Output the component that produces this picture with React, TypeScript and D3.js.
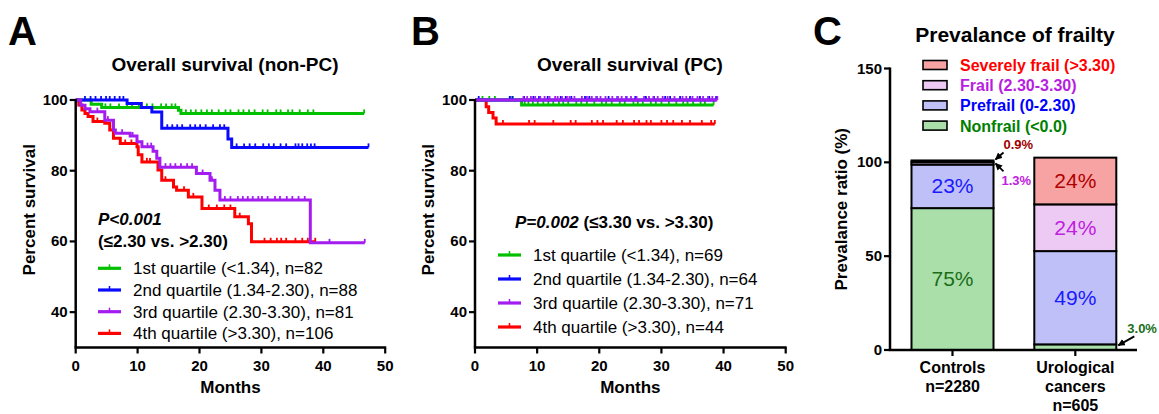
import React from 'react';
import * as d3 from 'd3';

const FONT = "'Liberation Sans', Arial, Helvetica, sans-serif";

// ---- Kaplan-Meier data (time in months, percent survival after each step) ----
const aGreenSteps = [[0, 100], [2.5, 98.8], [4.2, 97.9], [16.6, 97.1], [17.0, 96.2]];
const aBlueSteps = [[0, 100], [8.3, 99.0], [10.6, 97.9], [12.3, 96.6], [13.9, 92.0], [24.6, 89.0], [25.2, 86.6]];
const aPurpleSteps = [[0, 100], [0.8, 98.5], [1.5, 97.5], [2.3, 96.7], [4.7, 94.3], [6.1, 91.5], [6.4, 90.6], [8.8, 89.8], [9.9, 88.2], [10.7, 86.8], [12.5, 85.5], [13.1, 83.5], [13.6, 81.0], [19.5, 79.2], [21.7, 77.3], [22.5, 74.5], [23.3, 71.7], [37.9, 59.6]];
const aRedSteps = [[0, 100], [0.5, 98.6], [1.0, 97.2], [1.5, 96.2], [2.0, 95.3], [2.8, 93.9], [4.7, 93.4], [5.5, 91.5], [6.1, 89.2], [7.2, 87.7], [9.9, 86.8], [10.1, 84.5], [10.7, 82.5], [13.3, 80.2], [13.9, 77.3], [15.8, 75.4], [16.3, 74.5], [18.2, 72.6], [20.4, 69.3], [25.7, 67.0], [27.9, 65.0], [28.4, 59.9]];
const aEnds = [46.6, 47.3, 46.7, 38.7];

const aGreenCensor = [4.8, 5.6, 7.0, 8.3, 9.1, 10.2, 11.5, 12.4, 13.8, 14.6, 15.5, 16.1, 17.8, 18.6, 19.4, 20.3, 21.2, 22.0, 23.1, 24.2, 25.0, 26.3, 27.1, 28.0, 28.9, 30.2, 31.0, 32.4, 33.1, 34.3, 35.0, 36.2, 37.5, 38.4, 46.6];
const aBlueCensor = [1.5, 2.4, 3.2, 4.1, 4.9, 5.5, 6.3, 7.1, 7.7, 14.8, 15.6, 16.4, 17.2, 18.5, 19.3, 20.1, 21.0, 22.2, 23.3, 24.0, 26.0, 27.2, 28.1, 29.0, 30.3, 31.2, 32.0, 33.1, 34.0, 35.5, 36.0, 36.6, 37.4, 38.0, 38.6, 47.3];
const aPurpleCensor = [3.5, 5.2, 7.5, 9.2, 11.6, 12.2, 14.5, 15.3, 16.1, 17.0, 18.0, 18.8, 20.5, 22.0, 24.1, 25.0, 26.2, 27.0, 27.8, 28.6, 29.5, 30.1, 31.0, 32.2, 33.0, 34.1, 35.0, 36.0, 37.0, 41.0, 46.7];
const aRedCensor = [3.5, 8.0, 9.0, 11.5, 12.0, 14.5, 17.5, 19.0, 21.5, 22.8, 24.0, 25.0, 26.5, 30.5, 31.5, 32.5, 33.2, 34.0, 35.5, 36.6, 37.5, 38.7];

const bGreenSteps = [[0, 100], [7.5, 98.6]];
const bBlueSteps = [[0, 100]];
const bPurpleSteps = [[0, 100]];
const bRedSteps = [[0, 100], [1.8, 98.1], [2.2, 96.5], [2.9, 94.9], [3.4, 93.2]];
const bEnds = [38.4, 38.8, 39.0, 38.6];

const bGreenCensor = [1.2, 2.3, 3.2, 5.6, 6.1, 8.0, 8.6, 9.3, 10.1, 11.0, 11.8, 12.6, 13.5, 14.2, 15.0, 16.3, 17.1, 18.0, 19.2, 20.4, 21.1, 22.0, 23.3, 24.1, 25.5, 26.2, 27.0, 28.3, 29.1, 30.0, 31.2, 32.4, 33.5, 34.2, 35.1, 36.3, 37.0, 38.4];
const bBlueCensor = [0.6, 5.6, 6.0, 7.9, 9.4, 10.3, 11.7, 13.8, 14.6, 15.5, 17.7, 18.4, 19.6, 21.5, 22.9, 24.4, 25.8, 27.5, 28.8, 30.6, 31.4, 33.0, 34.6, 36.2, 37.7, 38.8];
const bPurpleCensor = [7.8, 8.4, 9.0, 9.7, 10.5, 11.2, 12.0, 12.9, 13.3, 14.0, 14.8, 15.2, 16.0, 17.2, 18.0, 18.8, 19.5, 20.2, 21.0, 22.1, 23.0, 23.6, 24.3, 25.1, 26.0, 27.2, 28.0, 28.7, 29.4, 30.2, 31.0, 32.1, 33.4, 34.0, 35.0, 35.8, 36.7, 37.5, 38.2, 39.0];
const bRedCensor = [4.5, 8.7, 9.6, 12.6, 15.4, 16.2, 18.8, 19.7, 20.6, 22.8, 23.8, 25.6, 26.4, 27.6, 28.3, 30.0, 30.9, 31.9, 33.3, 34.6, 36.5, 38.0, 38.6];

const quartileColors = ['#00c000', '#0a0aff', '#a31cf0', '#ff0000'];
const aLegend = ['1st quartile (<1.34), n=82', '2nd quartile (1.34-2.30), n=88', '3rd quartile (2.30-3.30), n=81', '4th quartile (>3.30), n=106'];
const bLegend = ['1st quartile (<1.34), n=69', '2nd quartile (1.34-2.30), n=64', '3rd quartile (2.30-3.30), n=71', '4th quartile (>3.30), n=44'];
const xTicks = [0, 10, 20, 30, 40, 50];
const yTicks = [40, 60, 80, 100];

// ---- Prevalence data (%) ----
const groups = ['Controls', 'Urological cancers'];
const groupLines = [['Controls', 'n=2280'], ['Urological', 'cancers', 'n=605']];
const frailKeys = ['nonfrail', 'prefrail', 'frail', 'severe'];
const nonfrail = [75.6, 3.0];
const prefrail = [23.2, 49.7];
const frail = [1.3, 24.9];
const severe = [0.9, 24.9];
const frailFills = ['#aadfaa', '#c0c0f8', '#eccaf4', '#f7a3a3'];
const frailLegend = ['Nonfrail (<0.0)', 'Prefrail (0-2.30)', 'Frail (2.30-3.30)', 'Severely frail (>3.30)'];
const frailLegendColors = ['#008000', '#0000ff', '#b81ee0', '#ff0000'];
const barLabels = [['75%', '23%', '', ''], ['', '49%', '24%', '24%']];
const barLabelColors = ['#1a6e1a', '#1a1aff', '#c020e0', '#b00000'];
const cTicks = [0, 50, 100, 150];

const survivalAt = (steps, t) => {
  let s = steps[0][1];
  for (const st of steps) if (st[0] <= t) s = st[1];
  return s;
};

const KMPanel = ({ xRange, title, titleX, pItalic, pRest, pX, pY, pLines, series, legend, legendX, legendY, legendStep }) => {
  const x = d3.scaleLinear().domain([0, 50]).range(xRange);
  const y = d3.scaleLinear().domain([30, 100]).range([347.5, 100]);
  const line = d3.line().x(d => x(d[0])).y(d => y(d[1])).curve(d3.curveStepAfter);
  const x0 = x(0);
  return (
    <g>
      <text x={titleX} y={71} textAnchor="middle" fontSize={19} fontWeight="bold">{title}</text>
      {/* curves */}
      {series.map((s, i) => {
        const pts = [...s.steps, [s.end, s.steps[s.steps.length - 1][1]]];
        return (
          <g key={i}>
            <path d={line(pts)} fill="none" stroke={s.color} strokeWidth={3} />
            {s.censor.map((t, j) => {
              const yy = y(survivalAt(s.steps, t));
              return <line key={j} x1={x(t)} x2={x(t)} y1={yy} y2={yy - 4} stroke={s.color} strokeWidth={1.8} />;
            })}
          </g>
        );
      })}
      {/* axes */}
      <line x1={x0} x2={x0} y1={y(100) - 1} y2={y(30)} stroke="#000" strokeWidth={2.5} />
      <line x1={x0 - 1.2} x2={x(50) + 1} y1={y(30)} y2={y(30)} stroke="#000" strokeWidth={2.5} />
      {yTicks.map(v => (
        <g key={v}>
          <line x1={x0 - 6} x2={x0} y1={y(v)} y2={y(v)} stroke="#000" strokeWidth={2.2} />
          <text x={x0 - 8} y={y(v) + 5} textAnchor="end" fontSize={15} fontWeight="bold">{v}</text>
        </g>
      ))}
      {xTicks.map(v => (
        <g key={v}>
          <line x1={x(v)} x2={x(v)} y1={y(30)} y2={y(30) + 6} stroke="#000" strokeWidth={2.2} />
          <text x={x(v)} y={y(30) + 23} textAnchor="middle" fontSize={15} fontWeight="bold">{v}</text>
        </g>
      ))}
      <text x={(x(0) + x(50)) / 2} y={393} textAnchor="middle" fontSize={17} fontWeight="bold">Months</text>
      <text transform={`translate(${x0 - 41},${(y(100) + y(30)) / 2 - 14}) rotate(-90)`} textAnchor="middle" fontSize={17} fontWeight="bold">Percent survival</text>
      {/* p value */}
      <text x={pX} y={pY} fontSize={17} fontWeight="bold">
        <tspan fontStyle="italic">{pItalic}</tspan>
        {pLines.length === 0 && <tspan>{pRest}</tspan>}
      </text>
      {pLines.map((l, i) => (
        <text key={i} x={pX} y={pY + 22 * (i + 1)} fontSize={17} fontWeight="bold">{l}</text>
      ))}
      {/* legend */}
      {legend.map((l, i) => {
        const ly = legendY + i * legendStep;
        return (
          <g key={i}>
            <line x1={legendX} x2={legendX + 23} y1={ly} y2={ly} stroke={quartileColors[i]} strokeWidth={3.2} />
            <line x1={legendX + 11.5} x2={legendX + 11.5} y1={ly} y2={ly - 4} stroke={quartileColors[i]} strokeWidth={1.5} />
            <text x={legendX + 35} y={ly + 6} fontSize={17}>{l}</text>
          </g>
        );
      })}
    </g>
  );
};

const PrevalencePanel = () => {
  const y = d3.scaleLinear().domain([0, 150]).range([350, 68.5]);
  const x = d3.scalePoint().domain(groups).range([952.5, 1075.3]);
  const barW = 82;
  const table = groups.map((g, i) => ({ group: g, nonfrail: nonfrail[i], prefrail: prefrail[i], frail: frail[i], severe: severe[i] }));
  const stacked = d3.stack().keys(frailKeys)(table);
  const tops = groups.map((g, i) => stacked[stacked.length - 1][i][1]);
  const axisX = 890;
  const cRight = x(groups[0]) + barW / 2;
  const uRight = x(groups[1]) + barW / 2;
  return (
    <g>
      <defs>
        <marker id="arr" viewBox="0 0 10 10" refX="9" refY="5" markerWidth="4" markerHeight="4" orient="auto">
          <path d="M0,0 L10,5 L0,10 z" fill="#000" />
        </marker>
      </defs>
      <text x={1015} y={42} textAnchor="middle" fontSize={21} fontWeight="bold">Prevalance of frailty</text>
      {/* bars */}
      {stacked.map((layer, k) => layer.map((d, i) => (
        <rect key={`${k}-${i}`} x={x(groups[i]) - barW / 2} y={y(d[1])} width={barW} height={y(d[0]) - y(d[1])}
          fill={frailFills[k]} stroke="#000" strokeWidth={2} />
      )))}
      {stacked.map((layer, k) => layer.map((d, i) => barLabels[i][k] && (
        <text key={`t${k}-${i}`} x={x(groups[i])} y={y((d[0] + d[1]) / 2) + 7} textAnchor="middle" fontSize={21}
          fill={barLabelColors[k]}>{barLabels[i][k]}</text>
      )))}
      {/* axes */}
      <line x1={axisX} x2={axisX} y1={y(150) - 1} y2={y(0)} stroke="#000" strokeWidth={2.5} />
      <line x1={axisX - 1.2} x2={1137} y1={y(0)} y2={y(0)} stroke="#000" strokeWidth={2.5} />
      {cTicks.map(v => (
        <g key={v}>
          <line x1={axisX - 6} x2={axisX} y1={y(v)} y2={y(v)} stroke="#000" strokeWidth={2.2} />
          <text x={axisX - 8} y={y(v) + 5} textAnchor="end" fontSize={15} fontWeight="bold">{v}</text>
        </g>
      ))}
      {groups.map((g, i) => (
        <g key={g}>
          <line x1={x(g)} x2={x(g)} y1={y(0)} y2={y(0) + 6} stroke="#000" strokeWidth={2.2} />
          {groupLines[i].map((t, j) => (
            <text key={j} x={x(g)} y={373 + j * 19} textAnchor="middle" fontSize={16} fontWeight="bold">{t}</text>
          ))}
        </g>
      ))}
      <text transform={`translate(${847},${(y(150) + y(0)) / 2}) rotate(-90)`} textAnchor="middle" fontSize={17} fontWeight="bold">Prevalance ratio (%)</text>
      {/* legend, top entry first */}
      {frailKeys.map((k, i) => {
        const row = frailKeys.length - 1 - i;
        const ly = 65 + row * 20.2;
        return (
          <g key={k}>
            <rect x={923} y={ly - 4.5} width={24} height={9} fill={frailFills[i]} stroke="#000" strokeWidth={1.6} />
            <text x={960} y={ly + 6} fontSize={16} fontWeight="bold" fill={frailLegendColors[i]}>{frailLegend[i]}</text>
          </g>
        );
      })}
      {/* annotations */}
      <text x={cRight + 10} y={y(tops[0]) - 11} fontSize={13} fontWeight="bold" fill="#a00000">0.9%</text>
      <line x1={cRight + 10} y1={y(tops[0]) - 8} x2={cRight + 2} y2={y(tops[0]) - 1} stroke="#000" strokeWidth={1.8} markerEnd="url(#arr)" />
      <text x={cRight + 8} y={y(tops[0]) + 25} fontSize={13} fontWeight="bold" fill="#c020e0">1.3%</text>
      <line x1={cRight + 10} y1={y(tops[0]) + 11} x2={cRight + 2} y2={y(tops[0]) + 3} stroke="#000" strokeWidth={1.8} markerEnd="url(#arr)" />
      <text x={uRight + 11} y={y(nonfrail[1]) - 11} fontSize={13} fontWeight="bold" fill="#1a6e1a">3.0%</text>
      <line x1={uRight + 18} y1={y(nonfrail[1]) - 8} x2={uRight + 2} y2={y(nonfrail[1]) + 1} stroke="#000" strokeWidth={1.8} markerEnd="url(#arr)" />
    </g>
  );
};

const App = () => {
  const aSeries = [
    { steps: aRedSteps, censor: aRedCensor, end: aEnds[3], color: quartileColors[3] },
    { steps: aGreenSteps, censor: aGreenCensor, end: aEnds[0], color: quartileColors[0] },
    { steps: aBlueSteps, censor: aBlueCensor, end: aEnds[1], color: quartileColors[1] },
    { steps: aPurpleSteps, censor: aPurpleCensor, end: aEnds[2], color: quartileColors[2] },
  ];
  const bSeries = [
    { steps: bRedSteps, censor: bRedCensor, end: bEnds[3], color: quartileColors[3] },
    { steps: bGreenSteps, censor: bGreenCensor, end: bEnds[0], color: quartileColors[0] },
    { steps: bBlueSteps, censor: bBlueCensor, end: bEnds[1], color: quartileColors[1] },
    { steps: bPurpleSteps, censor: bPurpleCensor, end: bEnds[2], color: quartileColors[2] },
  ];
  return (
    <svg width={1159} height={414} style={{ position: 'absolute', left: 0, top: 0, background: '#fff' }} fontFamily={FONT}>
      <rect width={1159} height={414} fill="#fff" />
      <text x={8} y={45} fontSize={40} fontWeight="bold">A</text>
      <text x={411} y={45} fontSize={40} fontWeight="bold">B</text>
      <text x={813} y={45} fontSize={40} fontWeight="bold">C</text>
      <KMPanel xRange={[75.7, 385.2]} title="Overall survival (non-PC)" titleX={225}
        pItalic="P<0.001" pRest="" pX={98} pY={225} pLines={['(≤2.30 vs. >2.30)']}
        series={aSeries} legend={aLegend} legendX={98} legendY={268.3} legendStep={21.7} />
      <KMPanel xRange={[475, 785.7]} title="Overall survival (PC)" titleX={630}
        pItalic="P=0.002" pRest=" (≤3.30 vs. >3.30)" pX={515} pY={228} pLines={[]}
        series={bSeries} legend={bLegend} legendX={498} legendY={255} legendStep={24} />
      <PrevalencePanel />
    </svg>
  );
};

export default App;
